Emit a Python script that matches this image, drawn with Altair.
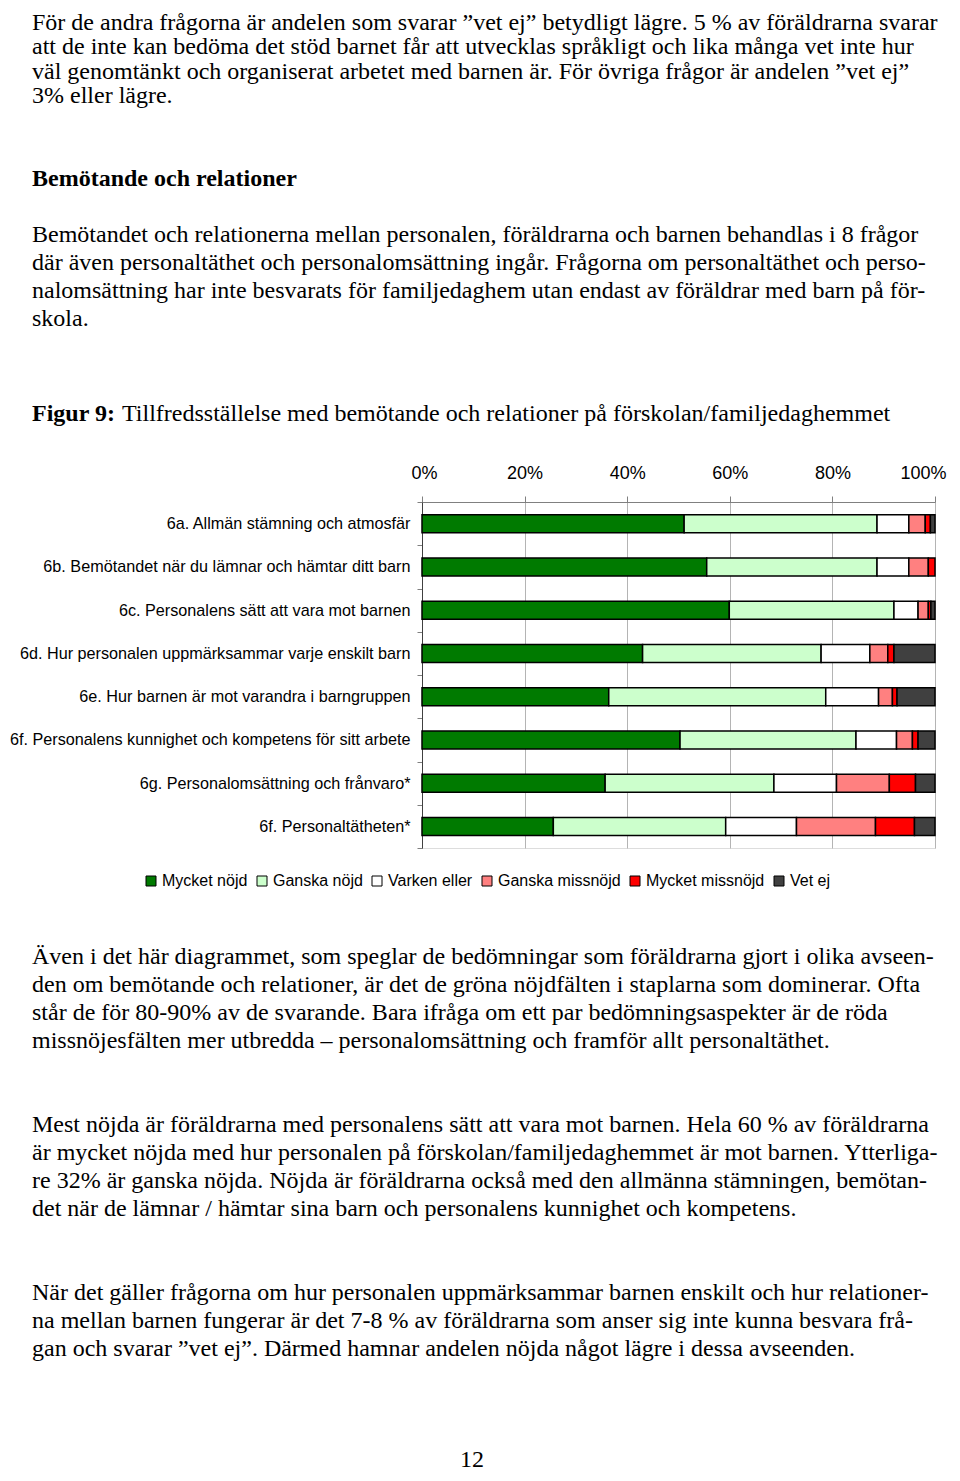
import altair as alt
import pandas as pd

# ---------------- data ----------------
questions = [
    "6a. Allmän stämning och atmosfär",
    "6b. Bemötandet när du lämnar och hämtar ditt barn",
    "6c. Personalens sätt att vara mot barnen",
    "6d. Hur personalen uppmärksammar varje enskilt barn",
    "6e. Hur barnen är mot varandra i barngruppen",
    "6f. Personalens kunnighet och kompetens för sitt arbete",
    "6g. Personalomsättning och frånvaro*",
    "6f. Personaltätheten*",
]
categories = ["Mycket nöjd", "Ganska nöjd", "Varken eller",
              "Ganska missnöjd", "Mycket missnöjd", "Vet ej"]
colors = ["#007A00", "#CCFFCC", "#FFFFFF", "#FF8080", "#FF0000", "#404040"]

mycket_nojd = [51.1, 55.5, 59.9, 43.0, 36.4, 50.3, 35.7, 25.6]
ganska_nojd = [37.6, 33.2, 32.1, 34.8, 42.3, 34.3, 32.9, 33.6]
varken_eller = [6.2, 6.2, 4.7, 9.5, 10.3, 7.9, 12.2, 13.8]
ganska_missnojd = [3.2, 3.8, 2.0, 3.5, 2.7, 3.1, 10.3, 15.4]
mycket_missnojd = [1.0, 1.3, 0.5, 1.2, 0.9, 1.1, 5.1, 7.6]
vet_ej = [0.9, 0.0, 0.8, 8.0, 7.4, 3.3, 3.8, 4.0]

tick_values = [0, 20, 40, 60, 80, 100]

para1 = [
    "För de andra frågorna är andelen som svarar ”vet ej” betydligt lägre. 5 % av föräldrarna svarar",
    "att de inte kan bedöma det stöd barnet får att utvecklas språkligt och lika många vet inte hur",
    "väl genomtänkt och organiserat arbetet med barnen är. För övriga frågor är andelen ”vet ej”",
    "3% eller lägre.",
]
heading = ["Bemötande och relationer"]
para2 = [
    "Bemötandet och relationerna mellan personalen, föräldrarna och barnen behandlas i 8 frågor",
    "där även personaltäthet och personalomsättning ingår. Frågorna om personaltäthet och perso-",
    "nalomsättning har inte besvarats för familjedaghem utan endast av föräldrar med barn på för-",
    "skola.",
]
caption_bold = ["Figur 9:"]
caption_rest = ["Tillfredsställelse med bemötande och relationer på förskolan/familjedaghemmet"]
para3 = [
    "Även i det här diagrammet, som speglar de bedömningar som föräldrarna gjort i olika avseen-",
    "den om bemötande och relationer, är det de gröna nöjdfälten i staplarna som dominerar. Ofta",
    "står de för 80-90% av de svarande. Bara ifråga om ett par bedömningsaspekter är de röda",
    "missnöjesfälten mer utbredda – personalomsättning och framför allt personaltäthet.",
]
para4 = [
    "Mest nöjda är föräldrarna med personalens sätt att vara mot barnen. Hela 60 % av föräldrarna",
    "är mycket nöjda med hur personalen på förskolan/familjedaghemmet är mot barnen. Ytterliga-",
    "re 32% är ganska nöjda. Nöjda är föräldrarna också med den allmänna stämningen, bemötan-",
    "det när de lämnar / hämtar sina barn och personalens kunnighet och kompetens.",
]
para5 = [
    "När det gäller frågorna om hur personalen uppmärksammar barnen enskilt och hur relationer-",
    "na mellan barnen fungerar är det 7-8 % av föräldrarna som anser sig inte kunna besvara frå-",
    "gan och svarar ”vet ej”. Därmed hamnar andelen nöjda något lägre i dessa avseenden.",
]
page_number = ["12"]

# ---------------- build table ----------------
series = [mycket_nojd, ganska_nojd, varken_eller, ganska_missnojd, mycket_missnojd, vet_ej]
rows = []
for ci, (cat, vals) in enumerate(zip(categories, series)):
    for q, v in zip(questions, vals):
        if v > 0:
            rows.append({"q": q, "cat": cat, "val": v, "ord": ci})
df = pd.DataFrame(rows)

SANS = "Liberation Sans"
SERIF = "Liberation Serif"

bars = alt.Chart(df).mark_bar(size=18, stroke="black", strokeWidth=1.5).encode(
    x=alt.X("val:Q", stack="zero",
            scale=alt.Scale(domain=[0, 100], nice=False),
            axis=alt.Axis(orient="top", values=tick_values,
                          labelExpr="datum.value + '%'", title=None,
                          grid=True, gridColor="#b4b4b4", gridWidth=1,
                          tickColor="#808080", tickSize=6,
                          domainColor="#808080", labelFont=SANS,
                          labelFontSize=18, labelColor="black",
                          labelPadding=14, labelFlush=True,
                          labelFlushOffset=11)),
    y=alt.Y("q:N", sort=questions,
            scale=alt.Scale(paddingInner=0, paddingOuter=0),
            axis=alt.Axis(title=None, tickBand="extent", tickSize=5,
                          tickColor="#808080", domainColor="#404040",
                          labelFont=SANS, labelFontSize=16.2,
                          labelColor="black", labelPadding=7,
                          labelLimit=600)),
    color=alt.Color("cat:N",
                    scale=alt.Scale(domain=categories, range=colors),
                    legend=alt.Legend(orient="none", legendX=-279, legendY=371,
                                      direction="horizontal", title=None,
                                      symbolType="square", symbolSize=100,
                                      symbolStrokeColor="black",
                                      symbolStrokeWidth=1,
                                      labelFont=SANS, labelFontSize=16,
                                      labelColor="black", columnPadding=6,
                                      labelOffset=3)),
    order=alt.Order("ord:Q", sort="ascending"),
)


def text_block(lines, x, y, bold=False, size=24, font=SERIF, line_height=28):
    return alt.Chart(pd.DataFrame({"t": ["\n".join(lines)]})).mark_text(
        align="left", baseline="alphabetic", font=font, fontSize=size,
        fontWeight="bold" if bold else "normal", lineHeight=line_height,
        lineBreak="\n", color="black",
    ).encode(x=alt.value(x), y=alt.value(y), text="t:N")


layers = [
    bars,
    text_block(para1, -390, -472, line_height=24.34),
    text_block(heading, -390, -316, bold=True),
    text_block(para2, -390, -260),
    text_block(caption_bold, -390, -81, bold=True),
    text_block(caption_rest, -300, -81),
    text_block(para3, -390, 462),
    text_block(para4, -390, 630),
    text_block(para5, -390, 798),
    text_block(page_number, 38, 965),
]

chart = alt.layer(*layers).properties(
    width=513, height=346,
    autosize=alt.AutoSizeParams(type="none"),
    padding={"left": 414, "top": 494, "right": 17, "bottom": 625},
).configure_view(stroke="#808080", strokeWidth=1).configure(font=SANS)

chart.save("out.html", embed_options={"renderer": "svg", "actions": False})
